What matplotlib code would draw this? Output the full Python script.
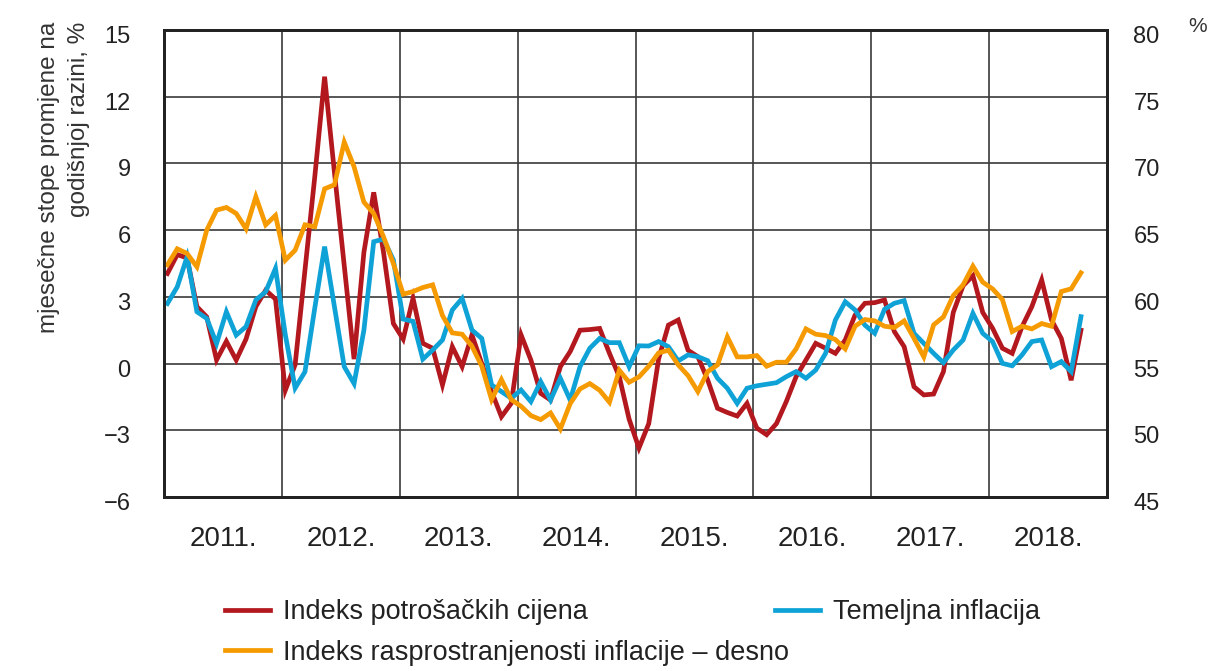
import numpy as np
import matplotlib
matplotlib.use("Agg")
import matplotlib.pyplot as plt
from matplotlib.ticker import FixedLocator, NullFormatter, FixedFormatter
from matplotlib.transforms import ScaledTranslation

plt.rcParams['font.family'] = ['Liberation Sans Narrow', 'Liberation Sans', 'DejaVu Sans']

years = [2011, 2012, 2013, 2014, 2015, 2016, 2017, 2018]
year_labels = ["2011.", "2012.", "2013.", "2014.", "2015.", "2016.", "2017.", "2018."]

cpi = [4.05, 4.9, 4.75, 2.56, 2.1, 0.16, 1.0, 0.16, 1.1, 2.56, 3.3, 2.9,
       -1.2, -0.05, 4.2, 8.4, 12.9, 8.6, 4.4, 0.2, 5.0, 7.7, 5.0, 1.8,
       1.1, 2.94, 0.91, 0.69, -0.96, 0.76, -0.14, 1.29, 0.0, -1.26, -2.39, -1.79,
       1.29, 0.16, -1.34, -1.64, -0.14, 0.54, 1.5, 1.53, 1.58, 0.46, -0.59, -2.5,
       -3.8, -2.7, 0.2, 1.73, 1.96, 0.6, 0.31, -0.74, -2.01, -2.2, -2.36, -1.79,
       -2.9, -3.2, -2.7, -1.71, -0.59, 0.16, 0.91, 0.69, 0.46, 1.06, 2.18, 2.71,
       2.74, 2.86, 1.44, 0.76, -1.04, -1.41, -1.37, -0.36, 2.3, 3.5, 3.95, 2.3,
       1.59, 0.69, 0.46, 1.66, 2.56, 3.76, 1.96, 1.13, -0.75, 1.5]

core = [2.7, 3.45, 4.8, 2.33, 2.03, 0.9, 2.33, 1.28, 1.66, 2.86, 3.23, 4.28,
        1.3, -1.1, -0.37, 2.5, 5.26, 2.56, -0.14, -0.9, 1.5, 5.48, 5.6, 4.66,
        2.0, 1.9, 0.2, 0.61, 1.06, 2.41, 2.93, 1.51, 1.13, -0.96, -1.26, -1.56,
        -1.19, -1.71, -0.81, -1.64, -0.66, -1.64, -0.14, 0.69, 1.13, 0.94, 0.94, -0.14,
        0.8, 0.79, 0.99, 0.76, 0.12, 0.39, 0.31, 0.13, -0.66, -1.11, -1.79, -1.11,
        -1.0, -0.93, -0.86, -0.59, -0.36, -0.66, -0.29, 0.46, 1.96, 2.78, 2.41, 1.73,
        1.36, 2.44, 2.71, 2.83, 1.36, 0.91, 0.46, 0.04, 0.61, 1.06, 2.26, 1.36,
        0.99, 0.01, -0.1, 0.39, 0.99, 1.06, -0.14, 0.09, -0.36, 2.11]

diffusion = [62.4, 63.6, 63.25, 62.25, 65.0, 66.5, 66.7, 66.25, 65.1, 67.5, 65.4, 66.1,
             62.75, 63.5, 65.4, 65.25, 68.1, 68.4, 71.6, 69.75, 67.1, 66.25, 64.5, 62.5,
             60.2, 60.4, 60.7, 60.9, 58.6, 57.3, 57.2, 56.3, 54.8, 52.3, 53.8, 52.3,
             51.8, 51.1, 50.8, 51.3, 50.1, 52.0, 53.1, 53.5, 53.0, 52.1, 54.5, 53.6,
             54.0, 54.8, 55.8, 56.0, 54.9, 54.1, 52.9, 54.4, 54.9, 57.0, 55.5, 55.5,
             55.6, 54.8, 55.1, 55.1, 56.1, 57.6, 57.2, 57.1, 56.8, 56.1, 57.8, 58.3,
             58.2, 57.8, 57.7, 58.2, 56.9, 55.5, 57.9, 58.5, 60.1, 60.9, 62.3, 61.1,
             60.6, 59.8, 57.4, 57.8, 57.6, 58.0, 57.8, 60.4, 60.6, 61.8]

left_ticks = [-6, -3, 0, 3, 6, 9, 12, 15]
right_ticks = [45, 50, 55, 60, 65, 70, 75, 80]

label_cpi = "Indeks potrošačkih cijena"
label_core = "Temeljna inflacija"
label_diff = "Indeks rasprostranjenosti inflacije – desno"

c_red = "#B3181F"
c_blue = "#0EA2D6"
c_orange = "#F59A00"
grid_c = "#3a3a3a"

x = years[0] + (np.arange(len(cpi)) + 0.35) / 12.0

fig = plt.figure(figsize=(12.16, 6.71), dpi=100)
ax = fig.add_axes([164/1216, 1-497/671, (1107-164)/1216, (497-30)/671])
ax2 = ax.twinx()

l1, = ax.plot(x, cpi, color=c_red, lw=3.4, solid_joinstyle='miter', label=label_cpi)
l2, = ax.plot(x, core, color=c_blue, lw=3.4, solid_joinstyle='miter', label=label_core)
l3, = ax2.plot(x, diffusion, color=c_orange, lw=3.4, solid_joinstyle='miter', label=label_diff)

ax.set_xlim(years[0], years[-1] + 1)
ax.set_ylim(left_ticks[0], left_ticks[-1])
ax2.set_ylim(right_ticks[0], right_ticks[-1])

ax.xaxis.set_major_locator(FixedLocator(years[1:]))
ax.xaxis.set_major_formatter(NullFormatter())
ax.xaxis.set_minor_locator(FixedLocator([y + 0.5 for y in years]))
ax.xaxis.set_minor_formatter(FixedFormatter(year_labels))
ax.tick_params(axis='x', which='both', length=0, labelsize=20, pad=21, colors='#222222')
ax.set_yticks(left_ticks)
ax.set_yticklabels([str(t).replace('-', '\u2212') for t in left_ticks])
ax.tick_params(axis='y', length=0, labelsize=17, pad=24, colors='#222222')
ax2.set_yticks(right_ticks)
ax2.tick_params(axis='y', length=0, labelsize=17, pad=19, colors='#222222')

shift = ScaledTranslation(0, -0.045, fig.dpi_scale_trans)
for a in (ax, ax2):
    for lbl in a.get_yticklabels():
        lbl.set_transform(lbl.get_transform() + shift)

ax.grid(True, which='major', color=grid_c, lw=1.2)
ax.set_axisbelow(True)
for a in (ax, ax2):
    for s in a.spines.values():
        s.set_color('#222222')
        s.set_linewidth(2.0)

fig.text(64/1216, 1-22/671, "mjesečne stope promjene na\ngodišnjoj razini, %",
         rotation=90, ha='center', va='top', multialignment='right',
         fontsize=17.5, color='#333333', linespacing=1.45)
fig.text(1198/1216, 1-27/671, "%", ha='center', va='center', fontsize=15, color='#333333')

leg_kw = dict(frameon=False, fontsize=19.5, handlelength=1.65, handletextpad=0.5,
              labelspacing=0.55, borderpad=0, borderaxespad=0, loc='upper left')
leg1 = fig.legend(handles=[l1, l3], bbox_to_anchor=(225/1216, 1-599/671), **leg_kw)
leg2 = fig.legend(handles=[l2], bbox_to_anchor=(775/1216, 1-599/671), **leg_kw)
for lg in (leg1, leg2):
    for t in lg.get_texts():
        t.set_color('#222222')

fig.savefig("out.png", dpi=100)
